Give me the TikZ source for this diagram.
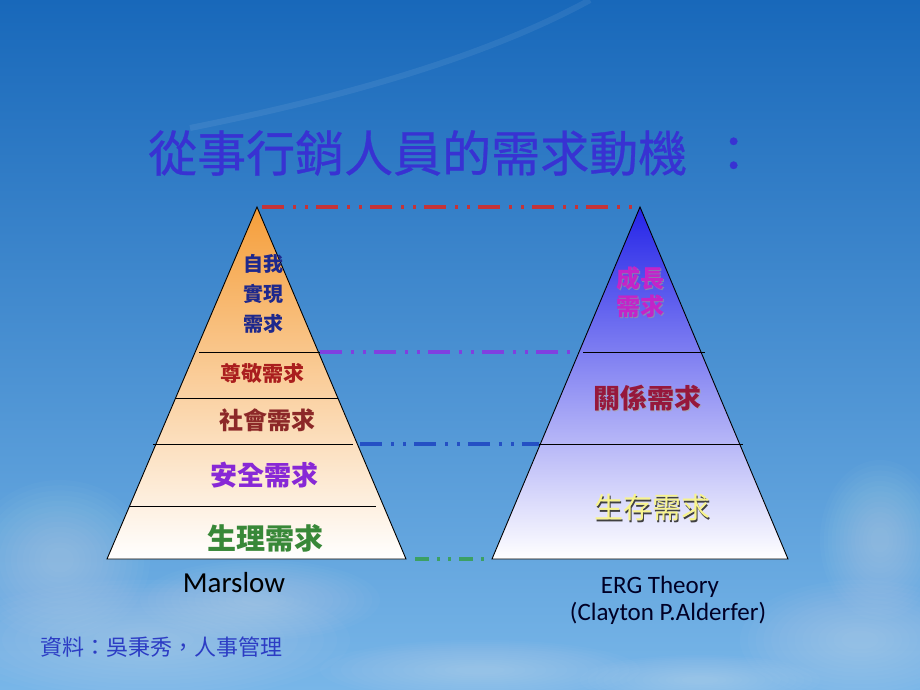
\documentclass[tikz,border=0pt]{standalone}
\usepackage{fontspec}
\setmainfont{Carlito}
\newfontfamily\cjk{Noto Sans CJK TC}
\newfontfamily\cjkmed[FakeBold=0.6]{Noto Sans CJK TC}
\usetikzlibrary{calc}
\definecolor{skytop}{RGB}{24,104,186}
\definecolor{skymid}{RGB}{58,140,214}
\definecolor{skybot}{RGB}{120,182,232}
\definecolor{titleblue}{RGB}{56,50,210}
\definecolor{navytxt}{RGB}{30,40,140}
\definecolor{redtxt}{RGB}{170,30,30}
\definecolor{brick}{RGB}{140,40,40}
\definecolor{purpletxt}{RGB}{136,40,214}
\definecolor{greentxt}{RGB}{56,136,56}
\definecolor{magtxt}{RGB}{196,36,200}
\definecolor{crimson}{RGB}{150,24,60}
\definecolor{yellowtxt}{RGB}{248,244,140}
\definecolor{srcblue}{RGB}{44,60,196}
\definecolor{orangetop}{RGB}{245,158,58}
\definecolor{peach}{RGB}{251,210,182}
\definecolor{bluetop}{RGB}{36,36,232}
\definecolor{lavender}{RGB}{180,180,242}
\definecolor{dred}{RGB}{196,52,56}
\definecolor{dpurple}{RGB}{128,64,224}
\definecolor{dblue}{RGB}{36,80,196}
\definecolor{dgreen}{RGB}{60,160,100}
\tikzset{
  lvl/.style={inner sep=0pt, align=center},
  edgeline/.style={draw=black, line width=0.9pt},
  dashlink/.style={line width=3.2pt, dash pattern=on 22pt off 9pt on 3pt off 9pt on 3pt off 8pt},
  haze/.style={fill=white, opacity=0.022},
}
\newcommand\softpuff[4]{%
  \foreach \k in {0,1,...,13}{%
    \fill[haze] (#1,#2) ellipse ({#3*(1-0.065*\k)} and {#4*(1-0.065*\k)});
  }%
}
\begin{document}
\begin{tikzpicture}[x=1pt,y=-1pt]
% background
\shade[top color=skytop, middle color=skymid, bottom color=skybot] (0,0) rectangle (920,690);
\useasboundingbox (0,0) rectangle (920,690);
% faint contrail
\draw[white, opacity=0.07, line width=6pt] (190,128) .. controls (330,100) and (480,60) .. (590,0);
% soft clouds
\softpuff{150}{640}{200}{60}
\softpuff{60}{560}{90}{80}
\softpuff{260}{600}{120}{40}
\softpuff{860}{640}{120}{60}
\softpuff{880}{540}{60}{80}
\softpuff{480}{670}{160}{30}
\softpuff{700}{680}{120}{25}

% left pyramid (Maslow)
\coordinate (LA) at (257,207);
\coordinate (LBL) at (107,559);
\coordinate (LBR) at (406,559);
\shade[top color=orangetop, middle color=peach, bottom color=white] (LA) -- (LBR) -- (LBL) -- cycle;
\coordinate (L1a) at (199,352); \coordinate (L1b) at (320,352);
\coordinate (L2a) at (176,398); \coordinate (L2b) at (338,398);
\coordinate (L3a) at (153,444); \coordinate (L3b) at (353,444);
\coordinate (L4a) at (130,506); \coordinate (L4b) at (376,506);
\draw[edgeline] (L1a) -- (L1b);
\draw[edgeline] (L2a) -- (L2b);
\draw[edgeline] (L3a) -- (L3b);
\draw[edgeline] (L4a) -- (L4b);
\draw[edgeline, line join=miter] (LA) -- (LBR) -- (LBL) -- cycle;

% right pyramid (ERG)
\coordinate (RA) at (640,207);
\coordinate (RBL) at (492,559);
\coordinate (RBR) at (788,559);
\shade[top color=bluetop, middle color=lavender, bottom color=white] (RA) -- (RBR) -- (RBL) -- cycle;
\coordinate (R1a) at (583,352); \coordinate (R1b) at (705,352);
\coordinate (R2a) at (539,444); \coordinate (R2b) at (743,444);
\draw[edgeline] (R1a) -- (R1b);
\draw[edgeline] (R2a) -- (R2b);
\draw[edgeline, line join=miter] (RA) -- (RBR) -- (RBL) -- cycle;

% dashed links
\draw[dashlink, dred] ([xshift=5pt]LA) -- ([xshift=-5pt]RA);
\draw[dashlink, dpurple] (L1b) -- ([xshift=-5pt]R1a);
\draw[dashlink, dblue] ([xshift=7pt]L3b) -- (R2a);
\draw[dashlink, dgreen, dash pattern=on 14pt off 8pt on 3pt off 8pt on 3pt off 8pt] ([xshift=9pt]LBR) -- ([xshift=-2pt]RBL);

% title
\node[anchor=west, inner sep=0pt, text=titleblue, font={\cjkmed\fontsize{49}{55}\selectfont}] (title) at (148,153) {從事行銷人員的需求動機\kern22pt：};

% Maslow labels
\node[lvl, text=navytxt, font={\cjk\bfseries\fontsize{20}{30}\selectfont}] (selfact) at (263,294) {自我\\實現\\需求};
\node[lvl, text=redtxt, font={\cjk\bfseries\fontsize{21}{24}\selectfont}] (esteem) at (262,373) {尊敬需求};
\node[lvl, text=brick, font={\cjk\bfseries\fontsize{24}{26}\selectfont}] (social) at (267,420) {社會需求};
\node[lvl, text=purpletxt, font={\cjk\bfseries\fontsize{27}{30}\selectfont}] (safety) at (264,475) {安全需求};
\node[lvl, text=greentxt, font={\cjk\bfseries\fontsize{29}{32}\selectfont}] (physio) at (265,538) {生理需求};

% ERG labels
\node[lvl, text=black!40, opacity=0.7, font={\cjk\bfseries\fontsize{24}{28}\selectfont}] (growthsh) at (641.2,293.2) {成長\\需求};
\node[lvl, text=magtxt, font={\cjk\bfseries\fontsize{24}{28}\selectfont}] (growth) at (640,292) {成長\\需求};
\node[lvl, text=black!35, opacity=0.8, font={\cjk\bfseries\fontsize{27}{30}\selectfont}] (relatesh) at (648.3,399.3) {關係需求};
\node[lvl, text=crimson, font={\cjk\bfseries\fontsize{27}{30}\selectfont}] (relate) at (647,398) {關係需求};
\node[lvl, text=black!75, font={\cjk\fontsize{29}{32}\selectfont}] (existsh) at (653.5,509.5) {生存需求};
\node[lvl, text=yellowtxt, font={\cjk\fontsize{29}{32}\selectfont}] (exist) at (652,508) {生存需求};

% captions
\node[inner sep=0pt, text=black, font={\fontsize{29}{32}\selectfont}] (marslow) at (234,583) {Marslow};
\node[inner sep=0pt, text=black!85!blue, font={\fontsize{25}{28}\selectfont}] (erg) at (660,587) {ERG Theory};
\node[inner sep=0pt, text=black!85!blue, font={\fontsize{25}{28}\selectfont}] (clayton) at (668,613) {(Clayton P.Alderfer)};
\node[anchor=west, inner sep=0pt, text=srcblue, font={\cjk\fontsize{22}{24}\selectfont}] (source) at (40,647) {資料：吳秉秀，人事管理};
\end{tikzpicture}
\end{document}
